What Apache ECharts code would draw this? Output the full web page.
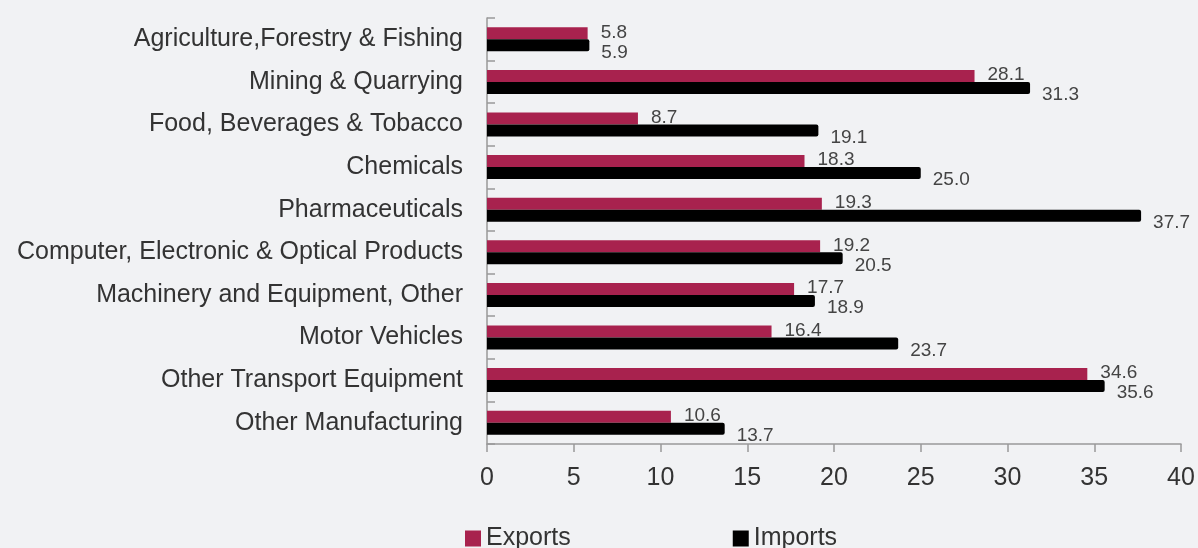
<!DOCTYPE html>
<html><head><meta charset="utf-8">
<script src="https://cdn.jsdelivr.net/npm/echarts@6/dist/echarts.min.js"></script>
<style>html,body{margin:0;padding:0;background:#f1f2f4;}#c{width:1198px;height:548px;}</style>
</head><body><div id="c"></div>
<script>
const categories = ["Agriculture,Forestry & Fishing","Mining & Quarrying","Food, Beverages & Tobacco","Chemicals","Pharmaceuticals","Computer, Electronic & Optical Products","Machinery and Equipment, Other","Motor Vehicles","Other Transport Equipment","Other Manufacturing"];
const exportsData = [5.8, 28.1, 8.7, 18.3, 19.3, 19.2, 17.7, 16.4, 34.6, 10.6];
const importsData = [5.9, 31.3, 19.1, 25.0, 37.7, 20.5, 18.9, 23.7, 35.6, 13.7];
const xTicks = {min: 0, max: 40, interval: 5};

const chart = echarts.init(document.getElementById('c'));
const font = "'Liberation Sans', Arial, sans-serif";
chart.setOption({
  backgroundColor: '#f1f2f4',
  textStyle: {fontFamily: font},
  animation: false,
  grid: {left: 487, right: 17, top: 18, bottom: 104, containLabel: false},
  legend: {
    top: 521, left: 460, itemGap: 162, itemWidth: 16, itemHeight: 16,
    icon: 'rect',
    textStyle: {fontSize: 25, color: '#333', fontFamily: font},
    data: ['Exports', 'Imports']
  },
  xAxis: {
    type: 'value', min: xTicks.min, max: xTicks.max, interval: xTicks.interval,
    axisLine: {show: true, lineStyle: {color: '#999', width: 1.5}},
    axisTick: {show: true, length: 8, lineStyle: {color: '#999', width: 1.5}},
    splitLine: {show: false},
    axisLabel: {fontSize: 25, color: '#333', margin: 22, fontFamily: font}
  },
  yAxis: {
    type: 'category', data: categories, inverse: true,
    axisLine: {show: true, lineStyle: {color: '#999', width: 1.5}},
    axisTick: {show: true, inside: true, length: 8, lineStyle: {color: '#999', width: 1.5}},
    axisLabel: {fontSize: 25, color: '#333', margin: 24, fontFamily: font}
  },
  series: [
    {name: 'Exports', type: 'bar', data: exportsData, barWidth: 12, barGap: '0%',
     itemStyle: {color: '#a8224e'},
     label: {show: true, position: 'right', distance: 13, offset: [0, -1], fontSize: 19, color: '#444', fontFamily: font, formatter: p => p.value.toFixed(1)}},
    {name: 'Imports', type: 'bar', data: importsData, barWidth: 12,
     itemStyle: {color: '#000000', borderRadius: [0,2,2,0]},
     label: {show: true, position: 'right', distance: 12, offset: [0, 7], fontSize: 19, color: '#444', fontFamily: font, formatter: p => p.value.toFixed(1)}}
  ]
});
</script></body></html>
